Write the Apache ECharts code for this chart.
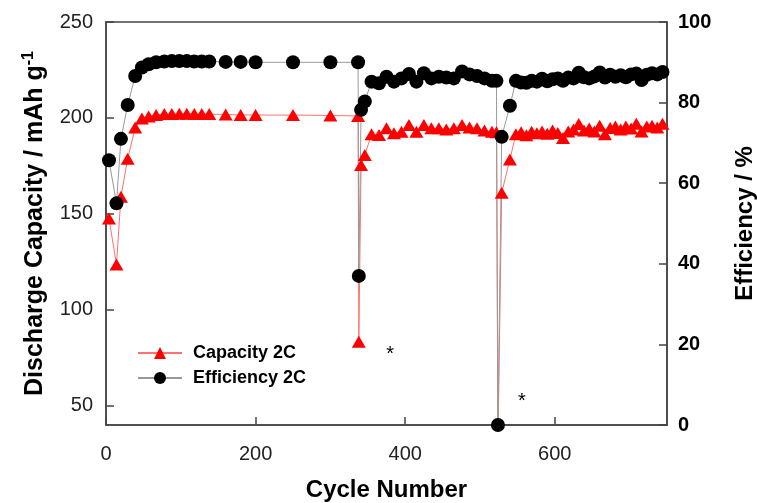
<!DOCTYPE html>
<html>
<head>
<meta charset="utf-8">
<script src="https://cdn.jsdelivr.net/npm/echarts@6/dist/echarts.min.js"></script>
<style>
  html, body { margin: 0; padding: 0; background: #fff; }
  #chart { width: 757px; height: 503px; }
</style>
</head>
<body>
<div id="chart"></div>
<script>
// cycle numbers
var cycles = [4, 14, 20, 29, 39, 48, 57, 67, 78, 88, 98, 108, 118, 128, 138, 160, 180, 200, 250, 300,
  337, 338, 341, 346, 355, 365, 375, 385, 395, 405, 415, 425, 435, 445, 455, 465, 476, 486, 496, 506,
  516, 522, 524, 529, 540,
  548, 555, 562, 569, 576, 583, 590, 597, 604, 611, 618, 625, 632, 639, 646, 653, 660, 667, 674, 681,
  688, 695, 702, 709, 716, 723, 730, 737, 744];

// discharge capacity, mAh g-1 (left axis)
var capacity = [147.6, 123.6, 159, 178.8, 195, 199.7, 200.8, 201.5, 202, 202, 202.2, 202.2, 202, 202, 202, 201.8, 201.5, 201.5, 201.5, 201.3,
  201, 83.4, 175.5, 180.7, 191.5, 191.1, 194.6, 192, 192.8, 196.3, 192.8, 196.3, 194.6, 194.6, 194, 194.6, 196.3, 195, 194.6, 193.5,
  192.8, 192.5, 30, 161, 178.4,
  191.5, 192.5, 191, 192.8, 192, 193, 191.8, 193.5, 192.2, 189.5, 193, 194, 196.8, 193.5, 194.5, 193, 196, 191.5, 194.8, 195.5,
  194, 195.5, 194.5, 197, 193, 195.5, 196, 195, 197];

// coulombic efficiency, % (right axis)
var efficiency = [65.7, 55, 71, 79.4, 86.6, 88.7, 89.5, 90, 90.2, 90.3, 90.3, 90.3, 90.2, 90.2, 90.2, 90.1, 90.1, 90, 90, 90,
  90, 37, 78.2, 80.3, 85.2, 84.8, 86.4, 85.2, 86, 87.1, 85.2, 87.3, 86, 86.4, 86.2, 86, 87.7, 87, 86.6, 86,
  85.4, 85.4, 0, 71.5, 79.2,
  85.4, 85, 84.9, 85.4, 85.2, 85.9, 85.3, 85.8, 86, 85.4, 86.2, 86, 87.4, 86.3, 86, 86.5, 87.5, 86.2, 86.9, 86.4,
  86.8, 86.3, 87, 87.2, 85.6, 86.9, 87.3, 87, 87.6];

var xTicks = [0, 200, 400, 600];
var capTicks = [50, 100, 150, 200, 250];

// asterisk notes [cycle, capacity]
var notes = [[380, 76.5], [556, 52]];

var font = "'Liberation Sans', Arial, sans-serif";

var chart = echarts.init(document.getElementById('chart'));

var capData = cycles.map(function (c, i) { return [c, capacity[i]]; });
var effData = cycles.map(function (c, i) { return [c, efficiency[i]]; });

var axisLine = { show: true, lineStyle: { color: '#444', width: 1.5 } };
var axisTick = { show: true, inside: true, length: 8, lineStyle: { color: '#444', width: 1.5 } };

var option = {
  animation: false,
  backgroundColor: '#fff',
  textStyle: { fontFamily: font },
  grid: {
    left: 106, right: 90, top: 22, bottom: 78,
    show: true, borderColor: '#444', borderWidth: 1.5,
    outerBoundsMode: 'none'
  },
  legend: {
    orient: 'vertical',
    left: 132, top: 339,
    itemWidth: 44, itemHeight: 15, itemGap: 7,
    data: ['Capacity 2C', 'Efficiency 2C'],
    textStyle: { fontFamily: font, fontSize: 18, fontWeight: 'bold', color: '#000', padding: [0, 0, 0, 6] }
  },
  xAxis: {
    type: 'value',
    min: 0, max: 750,
    name: 'Cycle Number',
    nameLocation: 'middle',
    nameGap: 53,
    nameMoveOverlap: false,
    nameTextStyle: { fontFamily: font, fontSize: 24, fontWeight: 'bold', color: '#000' },
    axisLine: axisLine,
    axisTick: { show: true, inside: true, length: 8, lineStyle: { color: '#444', width: 1.5 }, customValues: xTicks },
    axisLabel: { fontFamily: font, fontSize: 20, color: '#222', margin: 19, customValues: xTicks },
    splitLine: { show: false }
  },
  yAxis: [{
    type: 'value',
    position: 'left',
    min: 40, max: 250,
    name: 'Discharge Capacity / mAh g{sup|-1}',
    nameLocation: 'middle',
    nameRotate: 90,
    nameGap: 57,
    nameMoveOverlap: false,
    nameTextStyle: {
      fontFamily: font, fontSize: 25, fontWeight: 'bold', color: '#000',
      rich: { sup: { fontFamily: font, fontSize: 16, fontWeight: 'bold', color: '#000', verticalAlign: 'top', padding: [0, 0, 12, 0] } }
    },
    axisLine: axisLine,
    axisTick: { show: true, inside: true, length: 8, lineStyle: { color: '#444', width: 1.5 }, customValues: capTicks },
    axisLabel: { fontFamily: font, fontSize: 20, color: '#222', margin: 13, customValues: capTicks },
    splitLine: { show: false }
  }, {
    type: 'value',
    position: 'right',
    min: 0, max: 100, interval: 20,
    name: 'Efficiency / %',
    nameLocation: 'middle',
    nameRotate: 90,
    nameGap: 66,
    nameMoveOverlap: false,
    nameTextStyle: { fontFamily: font, fontSize: 24, fontWeight: 'bold', color: '#000' },
    axisLine: axisLine,
    axisTick: axisTick,
    axisLabel: { fontFamily: font, fontSize: 20, fontWeight: 'bold', color: '#000', margin: 11 },
    splitLine: { show: false }
  }],
  series: [{
    name: 'Capacity 2C',
    type: 'line',
    yAxisIndex: 0,
    data: capData,
    clip: true,
    symbol: 'triangle',
    symbolSize: [14, 12],
    showAllSymbol: true,
    itemStyle: { color: '#ff0000' },
    lineStyle: { color: '#ff7070', width: 1 },
    markPoint: {
      symbol: 'circle',
      symbolSize: 1,
      itemStyle: { color: 'rgba(0,0,0,0)' },
      label: { show: true, formatter: '*', fontFamily: font, fontSize: 20, color: '#000' },
      data: notes.map(function (n) { return { coord: n }; })
    }
  }, {
    name: 'Efficiency 2C',
    type: 'line',
    yAxisIndex: 1,
    data: effData,
    clip: true,
    symbol: 'circle',
    symbolSize: 14,
    showAllSymbol: true,
    itemStyle: { color: '#000' },
    lineStyle: { color: '#999', width: 1 }
  }]
};

chart.setOption(option);
</script>
</body>
</html>
